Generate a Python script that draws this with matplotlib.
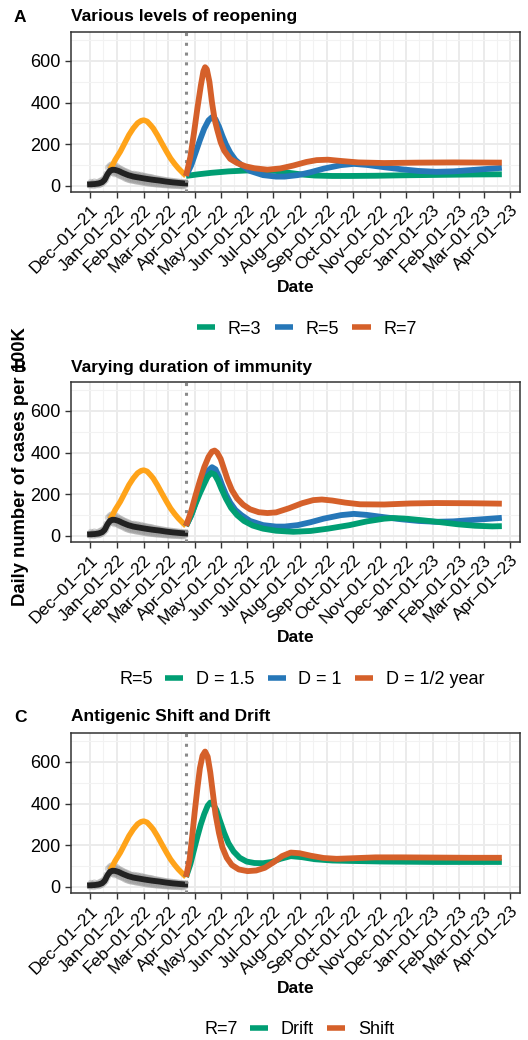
import numpy as np
import matplotlib
matplotlib.use("Agg")
import matplotlib.pyplot as plt
from matplotlib.lines import Line2D

plt.rcParams['font.family'] = ['Liberation Sans', 'DejaVu Sans']

# day 0 of every series below
START = np.datetime64('2021-12-01')

# reported daily cases per 100K, one value per day from Dec 1 2021
obs_cases = [3, 18, 6, 14, 1, 20, 9, 4, 16, 11,
             5, 22, 8, 26, 12, 30, 19, 40, 28, 58,
             45, 88, 60, 97, 70, 102, 64, 95, 58, 91,
             62, 94, 55, 86, 50, 82, 47, 78, 44, 73,
             38, 70, 35, 66, 31, 62, 29, 58, 27, 56,
             26, 57, 24, 53, 22, 55, 21, 50, 20, 52,
             18, 48, 17, 47, 15, 45, 14, 43, 13, 42,
             12, 41, 11, 38, 10, 36, 9, 35, 8, 33,
             8, 32, 7, 30, 6, 29, 5, 27, 5, 26,
             4, 25, 3, 24, 3, 23, 2, 22, 2, 21,
             2, 20, 1, 19, 1, 18, 0, 17, 0, 16, 3]

# smoothed reported cases
trend_days = [0, 5, 10, 14, 17, 20, 23, 26, 29, 33, 38, 44, 50, 57, 64, 72, 80, 88, 96, 104, 110]
trend_vals = [8, 9, 12, 18, 30, 55, 73, 78, 77, 72, 62, 52, 45, 40, 35, 30, 26, 21, 17, 14, 12]

# model fit of the winter wave
fit_days = [23, 26, 29, 32, 35, 40, 45, 50, 55, 59, 62, 66, 70, 73, 78, 83, 88, 93, 98, 102, 106, 111]
fit_vals = [80, 100, 125, 145, 165, 205, 245, 277, 302, 313, 316, 310, 292, 277, 243, 205, 168, 133, 105, 85, 68, 48]

reopen_day = 111

# projections after reopening
r3_days = [111, 125, 140, 160, 180, 200, 215, 230, 245, 260, 280, 300, 330, 360, 400, 440, 476]
r3_vals = [48, 56, 63, 70, 74, 75, 72, 63, 55, 50, 48, 48, 49, 51, 53, 55, 56]

r5_days = [111, 117, 122, 127, 132, 137, 141, 145, 149, 153, 157, 162, 168, 175, 185, 200, 215,
           225, 240, 255, 270, 290, 305, 320, 340, 360, 380, 400, 420, 440, 460, 476]
r5_vals = [48, 100, 160, 220, 275, 315, 330, 320, 285, 240, 200, 160, 125, 100, 72, 52, 45,
           45, 52, 66, 83, 100, 106, 101, 90, 80, 72, 68, 70, 76, 82, 87]

r7_days = [111, 116, 120, 124, 128, 131, 133, 135, 138, 141, 144, 147, 151, 155, 162, 170, 180,
           190, 205, 220, 235, 250, 262, 275, 290, 310, 340, 380, 420, 476]
r7_vals = [48, 140, 250, 370, 480, 550, 570, 560, 500, 400, 320, 270, 210, 170, 130, 110, 94,
           85, 78, 84, 98, 115, 124, 126, 120, 113, 110, 112, 113, 112]

d15_days = [111, 117, 122, 127, 132, 136, 140, 144, 148, 152, 157, 163, 170, 178, 188, 200, 215,
            235, 255, 275, 300, 320, 340, 350, 365, 385, 405, 425, 445, 465, 476]
d15_vals = [48, 100, 155, 205, 250, 285, 302, 295, 265, 225, 180, 135, 100, 72, 50, 35, 25,
            20, 24, 35, 52, 70, 83, 86, 83, 75, 66, 56, 49, 46, 47]

dhalf_days = [111, 117, 122, 127, 132, 137, 141, 144, 147, 151, 155, 159, 164, 170, 177, 185, 195,
              205, 215, 230, 245, 258, 268, 280, 295, 312, 340, 370, 400, 440, 476]
dhalf_vals = [48, 120, 195, 265, 330, 380, 405, 410, 400, 370, 320, 270, 220, 180, 150, 128, 114,
              110, 113, 133, 157, 172, 175, 170, 160, 152, 151, 156, 158, 157, 155]

drift_days = [111, 116, 120, 124, 128, 132, 136, 139, 142, 146, 150, 155, 160, 166, 173, 181, 190,
              200, 210, 220, 232, 245, 260, 280, 300, 340, 400, 476]
drift_vals = [48, 110, 175, 240, 300, 350, 390, 405, 400, 370, 320, 260, 210, 170, 140, 122, 115,
              114, 120, 135, 148, 143, 133, 127, 125, 122, 120, 120]

shift_days = [111, 115, 118, 121, 124, 127, 130, 133, 136, 139, 142, 145, 149, 153, 158, 164, 172,
              182, 192, 202, 212, 222, 232, 242, 255, 270, 285, 305, 330, 360, 400, 440, 476]
shift_vals = [48, 130, 240, 360, 470, 570, 630, 650, 625, 550, 450, 350, 260, 190, 140, 105, 84,
              76, 79, 92, 118, 148, 165, 162, 150, 139, 135, 138, 142, 142, 141, 140, 140]

month_labels = ['Dec\u201301\u201321', 'Jan\u201301\u201322', 'Feb\u201301\u201322', 'Mar\u201301\u201322',
                'Apr\u201301\u201322', 'May\u201301\u201322', 'Jun\u201301\u201322', 'Jul\u201301\u201322',
                'Aug\u201301\u201322', 'Sep\u201301\u201322', 'Oct\u201301\u201322', 'Nov\u201301\u201322',
                'Dec\u201301\u201322', 'Jan\u201301\u201323', 'Feb\u201301\u201323', 'Mar\u201301\u201323',
                'Apr\u201301\u201323']

GREEN = '#009E73'
BLUE = '#2677B8'
RED = '#D5602A'
ORANGE = '#FFA319'
INK = '#333333'

W, H = 528, 1040


def to_dates(days):
    return START + np.asarray(days).astype('timedelta64[D]')


def draw_panel(ax, scenarios):
    months = np.arange('2021-12', '2023-05', dtype='datetime64[M]').astype('datetime64[D]')
    mnum = months.astype(float)
    mids = ((mnum[:-1] + mnum[1:]) / 2).astype('int64').astype('datetime64[D]')

    ax.set_xticks(months)
    ax.set_xticklabels(month_labels, rotation=45, ha='right', va='top',
                       rotation_mode='anchor', fontsize=12.5, color='black')
    ax.set_xticks(mids, minor=True)
    ax.set_yticks([0, 200, 400, 600])
    ax.set_yticks([100, 300, 500, 700], minor=True)
    ax.tick_params(axis='y', labelsize=13, labelcolor='black')
    ax.tick_params(which='major', color=INK, length=4, width=1)
    ax.tick_params(which='minor', length=0)
    ax.grid(which='major', color='#EBEBEB', lw=1.4)
    ax.grid(which='minor', color='#F2F2F2', lw=0.8)
    ax.set_axisbelow(True)
    for s in ax.spines.values():
        s.set_color(INK)
        s.set_linewidth(1.1)

    ax.scatter(to_dates(np.arange(len(obs_cases))), obs_cases, s=24, color='#8c8c8c',
               alpha=0.35, edgecolors='none', zorder=2)
    ax.plot(to_dates(fit_days), fit_vals, color=ORANGE, lw=4, solid_capstyle='butt', zorder=3)
    ax.plot(to_dates(trend_days), trend_vals, color='#222222', lw=4.2, zorder=4)
    ax.axvline(START + np.timedelta64(reopen_day, 'D'), color='#8a8a8a', lw=2.2,
               ls=(0, (1, 2.2)), zorder=5)
    for days, vals, col in scenarios:
        ax.plot(to_dates(days), vals, color=col, lw=4.2, solid_capstyle='butt', zorder=6)

    ax.set_xlim(np.datetime64('2021-11-09'), np.datetime64('2023-04-12'))
    ax.set_ylim(-29, 739)
    ax.set_xlabel('Date', fontsize=12.5, fontweight='bold', labelpad=2)


fig = plt.figure(figsize=(W / 100, H / 100), dpi=100)

rects = [(71, 32, 192), (71, 382, 542), (71, 733, 893)]
axes = []
for left, top, bottom in rects:
    axes.append(fig.add_axes([left / W, 1 - bottom / H, (520 - left) / W, (bottom - top) / H]))

draw_panel(axes[0], [(r3_days, r3_vals, GREEN), (r5_days, r5_vals, BLUE), (r7_days, r7_vals, RED)])
draw_panel(axes[1], [(r5_days, r5_vals, BLUE), (d15_days, d15_vals, GREEN), (dhalf_days, dhalf_vals, RED)])
draw_panel(axes[2], [(drift_days, drift_vals, GREEN), (shift_days, shift_vals, RED)])

titles = [('A', 'Various levels of reopening', 17),
          ('B', 'Varying duration of immunity', 367),
          ('C', 'Antigenic Shift and Drift', 717)]
for tag, title, y in titles:
    fig.text(14 / W, 1 - y / H, tag, fontsize=12.5, fontweight='bold', va='center', ha='left')
    fig.text(71 / W, 1 - y / H, title, fontsize=12.5, fontweight='bold', va='center', ha='left')

fig.text(21 / W, 1 - 467 / H, 'Daily number of cases per 100K', rotation=90, fontsize=13.3,
         fontweight='bold', ha='center', va='center')


def add_legend(names, colors, x, y, head=None):
    handles = [Line2D([], [], color=c, lw=4, solid_capstyle='butt') for c in colors]
    fig.legend(handles, names, loc='center left', bbox_to_anchor=(x / W, 1 - y / H),
               ncol=len(names), frameon=False, fontsize=13, handlelength=1.0,
               handletextpad=0.7, columnspacing=0.75, borderpad=0, borderaxespad=0)
    if head:
        fig.text((x - 12) / W, 1 - y / H, head, fontsize=13, ha='right', va='center')


add_legend(['R=3', 'R=5', 'R=7'], [GREEN, BLUE, RED], 197, 329)
add_legend(['D = 1.5', 'D = 1', 'D = 1/2 year'], [GREEN, BLUE, RED], 165, 680, head='R=5')
add_legend(['Drift', 'Shift'], [GREEN, RED], 250, 1030, head='R=7')

fig.savefig('out.png', dpi=100)
